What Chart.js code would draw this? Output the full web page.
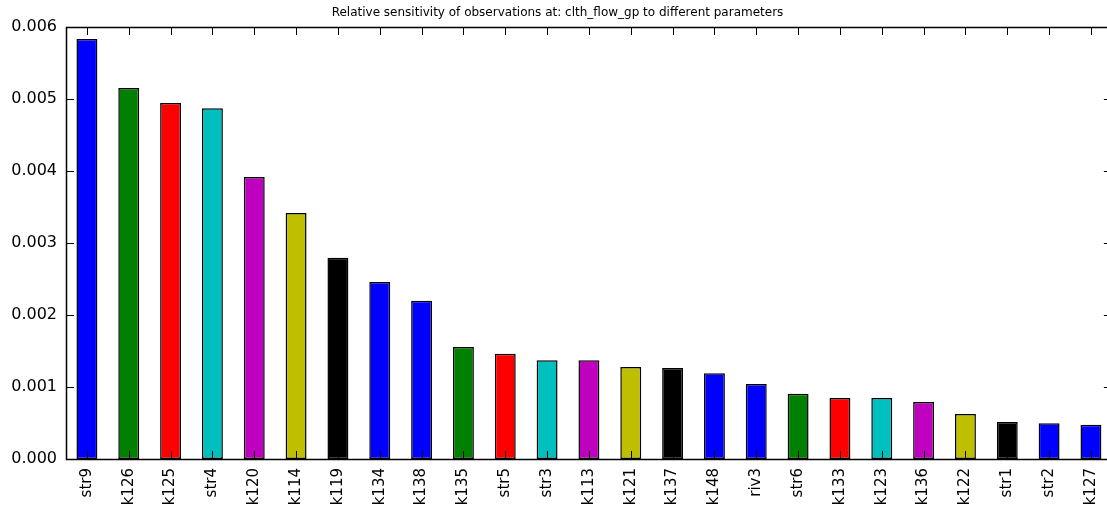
<!DOCTYPE html>
<html>
<head>
<meta charset="utf-8">
<script src="https://cdn.jsdelivr.net/npm/chart.js@4"></script>
<style>
  html, body { margin: 0; padding: 0; background: #fff; overflow: hidden; }
  #chart { display: block; }
</style>
</head>
<body>
<canvas id="chart" width="1118" height="515" style="width:1118px;height:515px"></canvas>
<script>
const TITLE = 'Relative sensitivity of observations at: clth_flow_gp to different parameters';

const PARAMS = [
  'str9', 'k126', 'k125', 'str4', 'k120', 'k114', 'k119', 'k134', 'k138', 'k135',
  'str5', 'str3', 'k113', 'k121', 'k137', 'k148', 'riv3', 'str6', 'k133', 'k123',
  'k136', 'k122', 'str1', 'str2', 'k127',
];

const SENSITIVITY = [
  0.005833, 0.005153, 0.004944, 0.004870, 0.003917, 0.003417, 0.002796, 0.002458, 0.002199, 0.001556,
  0.001463, 0.001370, 0.001370, 0.001278, 0.001264, 0.001190, 0.001042, 0.000907, 0.000847, 0.000847,
  0.000792, 0.000625, 0.000514, 0.000495, 0.000477,
];

// matplotlib classic letters: b g r c m y k
const BAR_COLORS = [
  '#0000ff', '#008000', '#ff0000', '#00bfbf', '#bf00bf', '#bfbf00', '#000000', '#0000ff',
  '#0000ff', '#008000', '#ff0000', '#00bfbf', '#bf00bf', '#bfbf00', '#000000', '#0000ff',
  '#0000ff', '#008000', '#ff0000', '#00bfbf', '#bf00bf', '#bfbf00', '#000000', '#0000ff',
  '#0000ff',
];

const Y_MIN = 0;
const Y_MAX = 0.006;
const Y_STEP = 0.001;

const FONT = "'DejaVu Sans', sans-serif";
const TICK_LEN = 8;

// frame + inward ticks, like matplotlib classic style
const frameTicks = {
  id: 'frameTicks',
  afterDatasetsDraw(chart) {
    const { ctx, chartArea: a, scales: { x, y } } = chart;
    ctx.save();
    ctx.strokeStyle = '#000';
    ctx.lineWidth = 1;
    ctx.beginPath();
    x.ticks.forEach((_, i) => {
      const px = Math.round(x.getPixelForTick(i)) + 0.5;
      ctx.moveTo(px, a.bottom); ctx.lineTo(px, a.bottom - TICK_LEN);
      ctx.moveTo(px, a.top); ctx.lineTo(px, a.top + TICK_LEN);
    });
    y.ticks.forEach((_, i) => {
      const py = Math.round(y.getPixelForTick(i)) + 0.5;
      ctx.moveTo(a.left, py); ctx.lineTo(a.left + TICK_LEN, py);
      ctx.moveTo(a.right, py); ctx.lineTo(a.right - TICK_LEN, py);
    });
    ctx.stroke();
    ctx.lineWidth = 1.5;
    ctx.strokeRect(Math.round(a.left) + 0.5, Math.round(a.top) + 0.5,
      Math.round(a.right - a.left), Math.round(a.bottom - a.top));
    ctx.restore();
  },
};

new Chart(document.getElementById('chart'), {
  type: 'bar',
  data: {
    labels: PARAMS,
    datasets: [{
      data: SENSITIVITY,
      backgroundColor: BAR_COLORS,
      borderColor: '#000',
      borderWidth: 1.5,
      borderSkipped: false,
      barPercentage: 0.5,
      categoryPercentage: 1.0,
    }],
  },
  options: {
    responsive: false,
    animation: false,
    layout: { padding: { left: 0, right: 3, top: 0, bottom: 0 } },
    plugins: {
      legend: { display: false },
      tooltip: { enabled: false },
      title: {
        display: true,
        text: TITLE,
        color: '#000',
        font: { family: FONT, size: 12, weight: 'normal' },
        padding: { top: 6, bottom: 6.6 },
      },
    },
    scales: {
      x: {
        grid: { display: false, drawTicks: false },
        border: { display: false },
        ticks: {
          color: '#000',
          font: { family: FONT, size: 15 },
          minRotation: 90,
          maxRotation: 90,
          autoSkip: false,
          padding: 9,
        },
        afterFit(scale) { scale.height = 56; },
      },
      y: {
        min: Y_MIN,
        max: Y_MAX,
        grid: { display: false, drawTicks: false },
        border: { display: false },
        ticks: {
          stepSize: Y_STEP,
          color: '#000',
          font: { family: FONT, size: 16 },
          padding: 9,
          callback: (v) => v.toFixed(3),
        },
        afterFit(scale) { scale.width = 66; },
      },
    },
  },
  plugins: [frameTicks],
});
</script>
</body>
</html>
